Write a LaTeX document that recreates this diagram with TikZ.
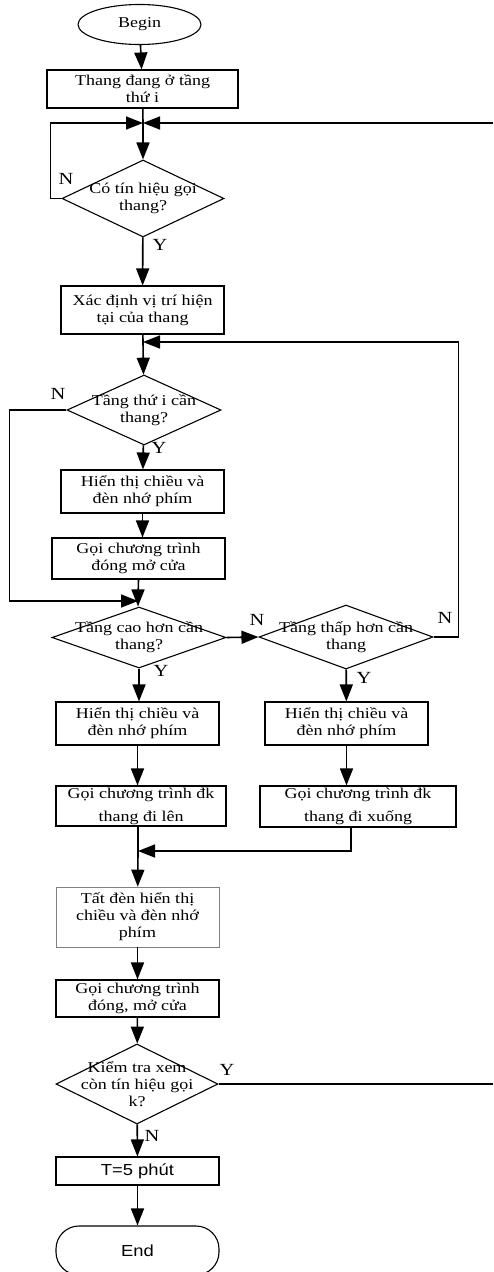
\documentclass[tikz,border=0pt]{standalone}
\usepackage{fontspec}
\setmainfont{Liberation Serif}[FakeStretch=1.2]
\newfontfamily\arialfont{Liberation Sans}[FakeStretch=1.15]
\usetikzlibrary{shapes.geometric,arrows.meta}

\begin{document}
\begin{tikzpicture}[x=1pt,y=-1pt,line width=1.6pt,
    >={Triangle[length=17pt,width=13pt]},
    txt/.style={font=\fontsize{15}{17}\selectfont,align=center},
    proc/.style={draw,rectangle,line width=1.1pt,inner sep=0pt,txt},
    dec/.style={draw,diamond,line width=1.1pt,inner sep=0pt},
    yn/.style={font=\fontsize{17}{17}\selectfont,inner sep=0pt}]
  \useasboundingbox (0,0) rectangle (493,1272);
  % start
  \node[draw,ellipse,line width=1.1pt,minimum width=123pt,minimum height=40pt,inner sep=0pt,txt] (begin) at (139.5,24.5) {Begin};
  \node[proc,minimum width=191pt,minimum height=38pt] (b1) at (142.5,89) {Thang đang ở tầng\\thứ i};
  \coordinate (m1) at (143,123);
  \coordinate (r1) at (493,123);
  \node[dec,minimum width=162pt,minimum height=77pt,label={[txt]center:Có tín hiệu gọi\\thang?}] (d1) at (143,198.5) {};
  \node[proc,minimum width=163pt,minimum height=48pt] (b2) at (142.5,310) {Xác định vị trí hiện\\tại của thang};
  \coordinate (m2) at (143,342);
  \node[dec,minimum width=154pt,minimum height=70pt,label={[txt]center:Tầng thứ i cần\\thang?}] (d2) at (144,410) {};
  \node[proc,minimum width=163pt,minimum height=43pt] (b3) at (142.5,491.5) {Hiển thị chiều và\\đèn nhớ phím};
  \node[proc,minimum width=173pt,minimum height=41pt] (b4) at (138.5,558.5) {Gọi chương trình\\đóng mở cửa};
  \coordinate (m3) at (138,601);
  % two branches
  \node[dec,minimum width=174pt,minimum height=61pt,label={[txt]center:Tầng cao hơn cần\\thang?}] (d3) at (139,637.5) {};
  \node[dec,minimum width=174pt,minimum height=64pt,label={[txt]center:Tầng thấp hơn cần\\thang}] (d4) at (346,637) {};
  \node[proc,minimum width=163pt,minimum height=43pt] (b5) at (137.5,723.5) {Hiển thị chiều và\\đèn nhớ phím};
  \node[proc,minimum width=163pt,minimum height=43pt] (b6) at (346.5,723.5) {Hiển thị chiều và\\đèn nhớ phím};
  \node[proc,minimum width=170pt,minimum height=40pt] (b7) at (141,806) {Gọi chương trình đk\\[6pt]thang đi lên};
  \node[proc,minimum width=196pt,minimum height=41pt] (b8) at (358,806.5) {Gọi chương trình đk\\[6pt]thang đi xuống};
  \coordinate (m4) at (138,851);
  % end part
  \node[proc,draw=gray,line width=0.6pt,minimum width=163pt,minimum height=60pt] (b9) at (137.5,917) {Tất đèn hiển thị\\chiều và đèn nhớ\\phím};
  \node[proc,minimum width=163pt,minimum height=37pt] (b10) at (137.5,998.5) {Gọi chương trình\\đóng, mở cửa};
  \node[dec,minimum width=162pt,minimum height=80pt,label={[txt]center:Kiểm tra xem\\còn tín hiệu gọi\\k?}] (d5) at (137,1084) {};
  \coordinate (r5) at (493,1084);
  \node[proc,minimum width=163pt,minimum height=28pt,font=\arialfont\fontsize{16}{17}\selectfont] (b11) at (137.5,1171) {T=5 phút};
  \node[proc,rounded corners=23pt,minimum width=163pt,minimum height=49pt,font=\arialfont\fontsize{16}{17}\selectfont] (end) at (137.5,1250.5) {End};

  \draw[->] (begin) -- (b1);
  \draw (b1) -- (m1);
  \draw[->] (m1) -- (d1);
  \draw[->] (d1.west) -- ++(-11,0) |- (m1);
  \draw[->] (r1) -- (m1);
  \draw[->] (d1) -- (b2);
  \draw (b2) -- (m2);
  \draw[->] (m2) -- (d2);
  \draw[->] (d2.west) -- ++(-57,0) |- (m3);
  \draw[->] (d2) -- (b3);
  \draw[->] (b3.south) -- (b3.south |- b4.north);
  \draw (b4.south) -- (m3);
  \draw[->] (m3) -- (m3 |- d3.north);
  \draw[->] (d3.east) -- (d4.west);
  \draw[->] (d4.east) -- ++(25,0) |- (m2);
  \draw[->] (d3.south) -- (d3.south |- b5.north);
  \draw[->] (d4) -- (b6);
  \draw[->] (b5.south) -- (b5.south |- b7.north);
  \draw[->] (b6.south) -- (b6.south |- b8.north);
  \draw (m4 |- b7.south) -- (m4);
  \draw[->] ([xshift=-7pt]b8.south) |- (m4);
  \draw[->] (m4) -- (b9);
  \draw[->] (b9) -- (b10);
  \draw[->] (b10) -- (d5);
  \draw (d5.east) -- (r5);
  \draw[->] (d5) -- (b11);
  \draw[->] (b11) -- (end);
  % labels
  \node[yn] (n1) at (66,179) {N};
  \node[yn] (y1) at (160,245) {Y};
  \node[yn] (n2) at (58,394) {N};
  \node[yn] (y2) at (159,448) {Y};
  \node[yn] (n3) at (257,620) {N};
  \node[yn] (n4) at (445,618) {N};
  \node[yn] (y3) at (161,671) {Y};
  \node[yn] (y4) at (364,678) {Y};
  \node[yn] (y5) at (227,1070) {Y};
  \node[yn] (n5) at (152,1136) {N};
\end{tikzpicture}
\end{document}
